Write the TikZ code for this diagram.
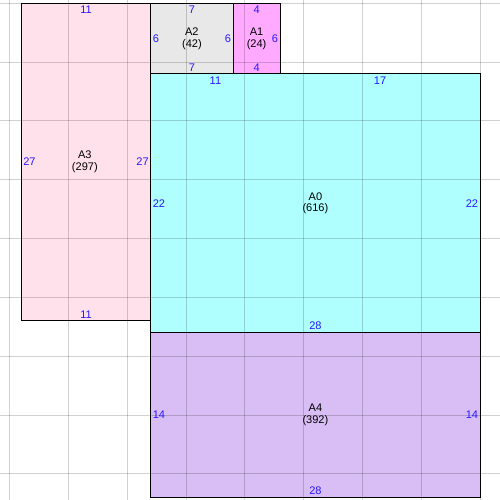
\documentclass[tikz,border=0pt]{standalone}
\usepackage{fontspec}
\setmainfont{Liberation Sans}
\usepackage{tikz}
\usetikzlibrary{positioning,calc}
\usepackage{xcolor}
\definecolor{a0col}{RGB}{175, 255, 255}
\definecolor{a1col}{RGB}{255, 170, 255}
\definecolor{a2col}{RGB}{232, 232, 232}
\definecolor{a3col}{RGB}{255, 225, 236}
\definecolor{a4col}{RGB}{217, 190, 245}
\definecolor{sizecol}{RGB}{40, 24, 255}

\begin{document}
\begin{tikzpicture}[
    x=0.3cm, y=-0.3cm,
    room/.style={draw=black, line width=0.7pt},
    gridline/.style={black, opacity=0.18, line width=0.7pt},
    roomname/.style={align=center, font=\fontsize{8}{8.6}\selectfont, inner sep=0pt},
    size/.style={text=sizecol, font=\fontsize{8}{8.6}\selectfont, inner xsep=1.3pt, inner ysep=1.8pt}
]
    \useasboundingbox (-1.81,-0.28) rectangle (40.69,42.22);

    % Rooms
    \fill[a3col] (0,0) rectangle (11,27);
    \fill[a2col] (11,0) rectangle (18,6);
    \fill[a1col] (18,0) rectangle (22,6);
    \fill[a0col] (11,6) rectangle (39,28);
    \fill[a4col] (11,28) rectangle (39,42);

    % Grid
    \begin{scope}
        \clip (-1.81,-0.28) rectangle (40.69,42.22);
        \foreach \x in {-1,4,...,39} {
            \draw[gridline] (\x,-1) -- (\x,43);
        }
        \foreach \y in {0,5,...,40} {
            \draw[gridline] (-2,\y) -- (41,\y);
        }
    \end{scope}

    \draw[room] (0,0) rectangle (11,27);
    \draw[room] (11,0) rectangle (18,6);
    \draw[room] (18,0) rectangle (22,6);
    \draw[room] (11,6) rectangle (39,28);
    \draw[room] (11,28) rectangle (39,42);

    % Names
    \node[roomname] (a3) at (5.4,13.5) {A3\\(297)};
    \node[roomname] (a2) at (14.5,3) {A2\\(42)};
    \node[roomname] (a1) at (20,3) {A1\\(24)};
    \node[roomname] (a0) at (25,17) {A0\\(616)};
    \node[roomname] (a4) at (25,35) {A4\\(392)};

    % Sizes
    \node[size, below] (a3t) at (5.5,0) {11};
    \node[size, above] (a3b) at (5.5,27) {11};
    \node[size, right] (a3l) at (0,13.5) {27};
    \node[size, left] (a3r) at (11,13.5) {27};

    \node[size, below] (a2t) at (14.5,0) {7};
    \node[size, above] (a2b) at (14.5,6) {7};
    \node[size, right] (a2l) at (11,3) {6};
    \node[size, left] (a2r) at (18,3) {6};

    \node[size, below] (a1t) at (20,0) {4};
    \node[size, above] (a1b) at (20,6) {4};
    \node[size, left] (a1r) at (22,3) {6};

    \node[size, below] (a0t) at (16.5,6) {11};
    \node[size, below] (a0u) at (30.5,6) {17};
    \node[size, right] (a0l) at (11,17) {22};
    \node[size, left] (a0r) at (39,17) {22};
    \node[size, above] (a0b) at (25,28) {28};

    \node[size, right] (a4l) at (11,35) {14};
    \node[size, left] (a4r) at (39,35) {14};
    \node[size, above] (a4b) at (25,42) {28};
\end{tikzpicture}
\end{document}
